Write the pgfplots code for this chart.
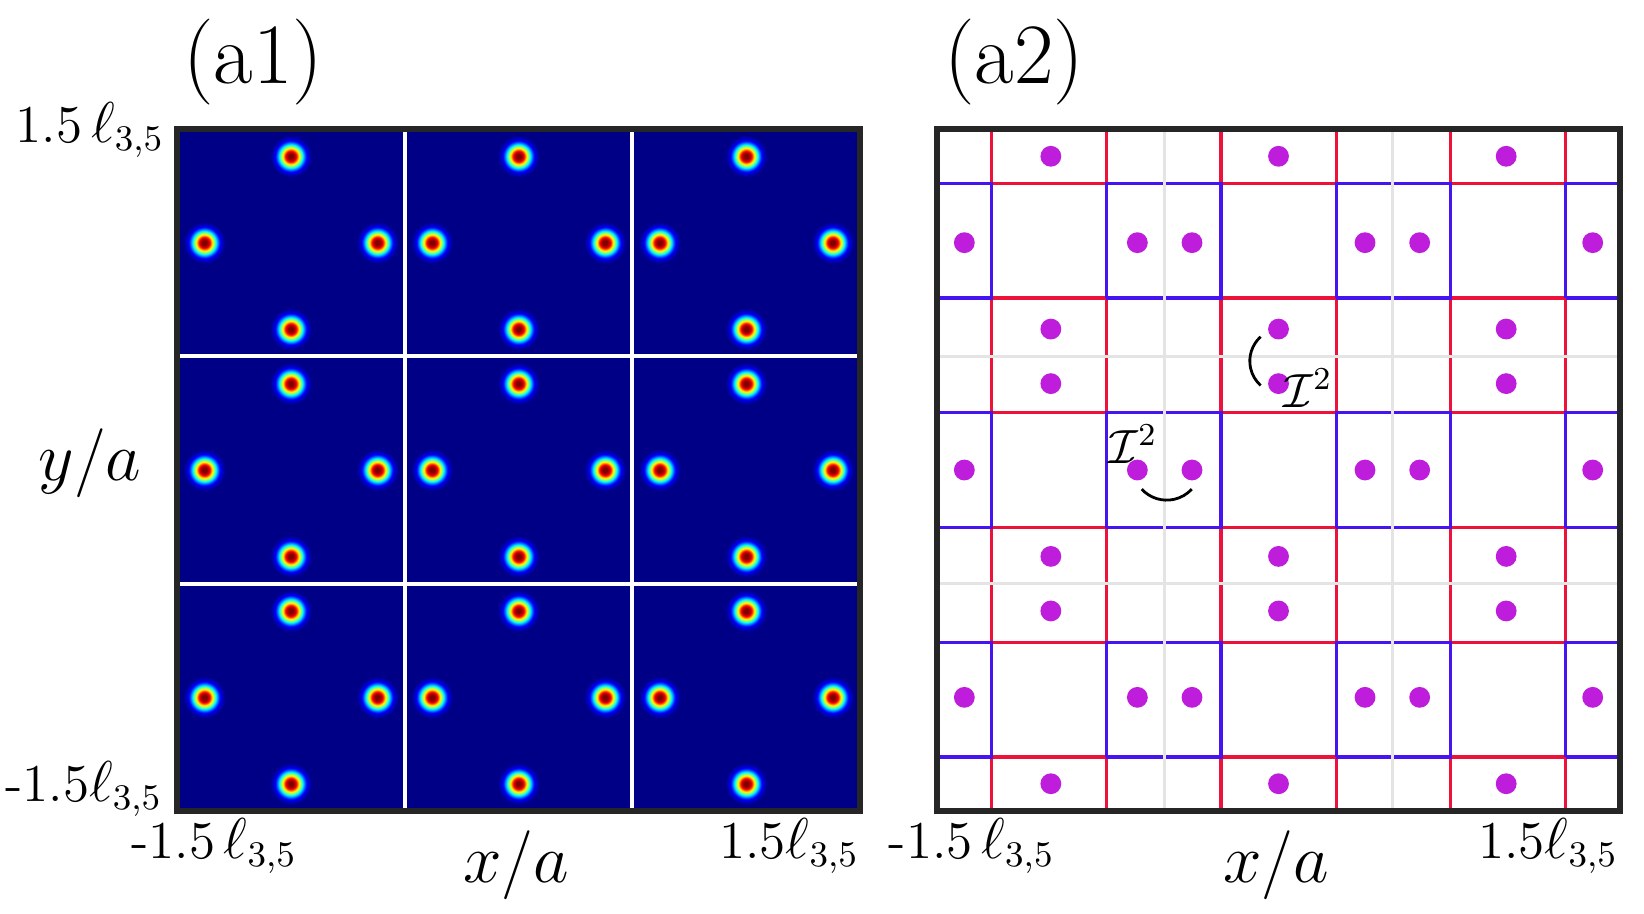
\documentclass[border=0pt]{standalone}
\usepackage{pgfplots}
\pgfplotsset{compat=1.18}
\usepackage{fontspec}
\definecolor{navyjet}{rgb}{0,0,0.53}
\definecolor{framegray}{RGB}{38,38,38}
\definecolor{lred}{RGB}{237,18,58}
\definecolor{lblue}{RGB}{70,20,240}
\definecolor{dotc}{RGB}{190,30,220}
\definecolor{gridgray}{RGB}{228,228,228}
\definecolor{j0}{rgb}{0.5,0,0}
\definecolor{j1}{rgb}{1,0,0}
\definecolor{j2}{rgb}{1,0.5,0}
\definecolor{j3}{rgb}{1,1,0}
\definecolor{j4}{rgb}{0.5,1,0.5}
\definecolor{j5}{rgb}{0,1,1}
\definecolor{j6}{rgb}{0,0.5,1}
\definecolor{j7}{rgb}{0,0,1}
\definecolor{j8}{rgb}{0,0,0.75}
\pgfdeclareradialshading{jetspot}{\pgfpointorigin}{color(0bp)=(j0); color(2.8bp)=(j0); color(6.25bp)=(j1); color(7.7bp)=(j2); color(9.4bp)=(j3); color(11.4bp)=(j4); color(13.1bp)=(j5); color(15.3bp)=(j6); color(17.6bp)=(j7); color(20.4bp)=(j8); color(23.9bp)=(navyjet); color(50bp)=(navyjet)}
\pgfdeclareplotmark{jetspot}{\pgfpathcircle{\pgfpointorigin}{\pgfplotmarksize}\pgfshadepath{jetspot}{0}\pgfusepath{}}

\pgfplotstableread{
x y
-1 1.38
-1.38 1
-0.62 1
-1 0.62
0 1.38
-0.38 1
0.38 1
0 0.62
1 1.38
0.62 1
1.38 1
1 0.62
-1 0.38
-1.38 0
-0.62 0
-1 -0.38
0 0.38
-0.38 0
0.38 0
0 -0.38
1 0.38
0.62 0
1.38 0
1 -0.38
-1 -0.62
-1.38 -1
-0.62 -1
-1 -1.38
0 -0.62
-0.38 -1
0.38 -1
0 -1.38
1 -0.62
0.62 -1
1.38 -1
1 -1.38
}\spots

\pgfplotsset{
  panel/.style={
    anchor=south west, scale only axis,
    width=170.75pt, height=170.5pt,
    xmin=-1.5, xmax=1.5, ymin=-1.5, ymax=1.5,
    xtick=\empty, ytick=\empty,
    axis line style={draw=framegray, line width=1.5pt},
    axis on top, clip=true, unbounded coords=jump,
  }
}

\begin{document}
\begin{tikzpicture}
\path[use as bounding box] (0,0) rectangle (411pt,228.25pt);

% ---------- (a1)
\begin{axis}[panel, at={(44.25pt,25.5pt)}, axis background/.style={fill=navyjet}]
\addplot[white, line width=1pt] coordinates {
(-0.5,-1.6) (-0.5,1.6) (nan,nan)
(0.5,-1.6) (0.5,1.6) (nan,nan)
(-1.6,-0.5) (1.6,-0.5) (nan,nan)
(-1.6,0.5) (1.6,0.5)
};
\addplot[only marks, mark=jetspot, mark size=5.5pt] table {\spots};
\end{axis}

% ---------- (a2)
\begin{axis}[panel, at={(234.25pt,25.5pt)}]
% red squares
\addplot[lred, line width=0.8pt] coordinates {
(-1.262,1.262) (-0.757,1.262) (-0.757,1.8) (-1.262,1.8) (-1.262,1.262) (nan,nan)
(-0.253,1.262) (0.253,1.262) (0.253,1.8) (-0.253,1.8) (-0.253,1.262) (nan,nan)
(0.757,1.262) (1.262,1.262) (1.262,1.8) (0.757,1.8) (0.757,1.262) (nan,nan)
(-1.262,0.253) (-0.757,0.253) (-0.757,0.757) (-1.262,0.757) (-1.262,0.253) (nan,nan)
(-0.253,0.253) (0.253,0.253) (0.253,0.757) (-0.253,0.757) (-0.253,0.253) (nan,nan)
(0.757,0.253) (1.262,0.253) (1.262,0.757) (0.757,0.757) (0.757,0.253) (nan,nan)
(-1.262,-0.757) (-0.757,-0.757) (-0.757,-0.253) (-1.262,-0.253) (-1.262,-0.757) (nan,nan)
(-0.253,-0.757) (0.253,-0.757) (0.253,-0.253) (-0.253,-0.253) (-0.253,-0.757) (nan,nan)
(0.757,-0.757) (1.262,-0.757) (1.262,-0.253) (0.757,-0.253) (0.757,-0.757) (nan,nan)
(-1.262,-1.8) (-0.757,-1.8) (-0.757,-1.262) (-1.262,-1.262) (-1.262,-1.8) (nan,nan)
(-0.253,-1.8) (0.253,-1.8) (0.253,-1.262) (-0.253,-1.262) (-0.253,-1.8) (nan,nan)
(0.757,-1.8) (1.262,-1.8) (1.262,-1.262) (0.757,-1.262) (0.757,-1.8)
};
% blue squares
\addplot[lblue, line width=0.8pt] coordinates {
(-1.8,0.757) (-1.262,0.757) (-1.262,1.262) (-1.8,1.262) (-1.8,0.757) (nan,nan)
(-0.757,0.757) (-0.253,0.757) (-0.253,1.262) (-0.757,1.262) (-0.757,0.757) (nan,nan)
(0.253,0.757) (0.757,0.757) (0.757,1.262) (0.253,1.262) (0.253,0.757) (nan,nan)
(1.262,0.757) (1.8,0.757) (1.8,1.262) (1.262,1.262) (1.262,0.757) (nan,nan)
(-1.8,-0.253) (-1.262,-0.253) (-1.262,0.253) (-1.8,0.253) (-1.8,-0.253) (nan,nan)
(-0.757,-0.253) (-0.253,-0.253) (-0.253,0.253) (-0.757,0.253) (-0.757,-0.253) (nan,nan)
(0.253,-0.253) (0.757,-0.253) (0.757,0.253) (0.253,0.253) (0.253,-0.253) (nan,nan)
(1.262,-0.253) (1.8,-0.253) (1.8,0.253) (1.262,0.253) (1.262,-0.253) (nan,nan)
(-1.8,-1.262) (-1.262,-1.262) (-1.262,-0.757) (-1.8,-0.757) (-1.8,-1.262) (nan,nan)
(-0.757,-1.262) (-0.253,-1.262) (-0.253,-0.757) (-0.757,-0.757) (-0.757,-1.262) (nan,nan)
(0.253,-1.262) (0.757,-1.262) (0.757,-0.757) (0.253,-0.757) (0.253,-1.262) (nan,nan)
(1.262,-1.262) (1.8,-1.262) (1.8,-0.757) (1.262,-0.757) (1.262,-1.262)
};
% light grey cell lines
\addplot[gridgray, line width=0.9pt] coordinates {
(-0.5,-1.6) (-0.5,1.6) (nan,nan)
(0.5,-1.6) (0.5,1.6) (nan,nan)
(-1.6,-0.5) (1.6,-0.5) (nan,nan)
(-1.6,0.5) (1.6,0.5)
};
\addplot[only marks, mark=*, mark size=2.4pt, color=dotc, mark options={draw=dotc, fill=dotc}] table {\spots};
\draw[black, line width=0.7pt] (axis cs:0.018,0.479) ++(132:8.2pt) arc[start angle=132, end angle=228, radius=8.2pt];
\draw[black, line width=0.7pt] (axis cs:-0.491,0.017) ++(222.5:8.5pt) arc[start angle=222.5, end angle=317.5, radius=8.5pt];
\end{axis}

% ---------- texts
\node[anchor=base, inner sep=0pt] at (63.25pt,207.5pt) {\fontsize{21.5}{25}\selectfont (a1)};
\node[anchor=base, inner sep=0pt] at (253.5pt,207.5pt) {\fontsize{21.5}{25}\selectfont (a2)};

\node[anchor=base east, inner sep=0pt] at (41.25pt,192.75pt) {\fontsize{13.3}{16}\selectfont 1.5\,$\ell_{3,5}$};
\node[anchor=base east, inner sep=0pt] at (40.75pt,28pt) {\fontsize{13.3}{16}\selectfont -1.5$\ell_{3,5}$};
\node[anchor=base, inner sep=0pt] at (22.5pt,108.25pt) {\fontsize{18}{22}\selectfont $y/a$};

\node[anchor=base, inner sep=0pt] at (53.5pt,13.75pt) {\fontsize{13.3}{16}\selectfont -1.5\,$\ell_{3,5}$};
\node[anchor=base, inner sep=0pt] at (197.25pt,13.75pt) {\fontsize{13.3}{16}\selectfont 1.5$\ell_{3,5}$};
\node[anchor=base, inner sep=0pt] at (129pt,7.75pt) {\fontsize{18}{22}\selectfont $x/a$};

\node[anchor=base, inner sep=0pt] at (242.9pt,13.75pt) {\fontsize{13.3}{16}\selectfont -1.5\,$\ell_{3,5}$};
\node[anchor=base, inner sep=0pt] at (387pt,13.75pt) {\fontsize{13.3}{16}\selectfont 1.5$\ell_{3,5}$};
\node[anchor=base, inner sep=0pt] at (319pt,7.75pt) {\fontsize{18}{22}\selectfont $x/a$};

\node[anchor=base, inner sep=0pt] at (327pt,126.5pt) {\fontsize{12}{14}\selectfont $\mathcal{I}^2$};
\node[anchor=base, inner sep=0pt] at (283.25pt,112.5pt) {\fontsize{12}{14}\selectfont $\mathcal{I}^2$};
\end{tikzpicture}
\end{document}
